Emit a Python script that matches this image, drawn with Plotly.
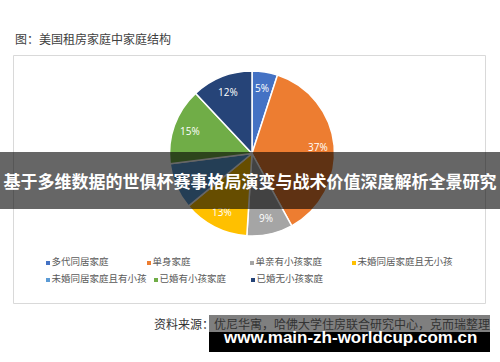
import math
import plotly.graph_objects as go

# ---- data ----
labels = ["多代同居家庭", "单身家庭", "单亲有小孩家庭", "未婚同居家庭且无小孩",
          "未婚同居家庭且有小孩", "已婚有小孩家庭", "已婚无小孩家庭"]
values = [5, 37, 9, 13, 9, 15, 12]
colors = ["#4472C4", "#ED7D31", "#A5A5A5", "#FFC000", "#5B9BD5", "#70AD47", "#264478"]

title_text = "图：美国租房家庭中家庭结构"
source_text = "资料来源：优尼华寓，哈佛大学住房联合研究中心，克而瑞整理"
banner_text = "基于多维数据的世俱杯赛事格局演变与战术价值深度解析全景研究"
watermark_text = "www.main-zh-worldcup.com.cn"

# ---- layout helpers (pixel positions) ----
W, H = 500, 362
cx, cy, r = 252, 153.5, 82.5
label_radius = 0.8
legend_x = [48, 149, 252, 354, 48, 156, 253]
legend_y = [263, 263, 263, 263, 280, 280, 280]

cjk = "Noto Sans CJK SC"

fig = go.Figure()

fig.add_trace(go.Pie(
    labels=labels, values=values, sort=False, direction="clockwise", rotation=0,
    marker=dict(colors=colors, line=dict(color="white", width=1.5)),
    textinfo="none",
    domain=dict(x=[(cx - r) / W, (cx + r) / W], y=[(H - cy - r) / H, (H - cy + r) / H]),
    showlegend=False, hoverinfo="label+percent",
))

# manual legend
fig.add_trace(go.Scatter(
    x=legend_x, y=legend_y, mode="markers+text",
    marker=dict(symbol="square", size=4, color=colors),
    text=labels, textposition="middle right",
    textfont=dict(family=cjk, size=9.5, color="#595959"),
    showlegend=False, hoverinfo="skip", cliponaxis=False,
))

# percentage labels at slice mid-angles (drawn before the banner so it covers them)
annotations = []
total = sum(values)
acc = 0
for v in values:
    mid = (acc + v / 2) / total * 2 * math.pi
    acc += v
    annotations.append(dict(
        text=f"{v}%", x=cx + label_radius * r * math.sin(mid),
        y=cy - label_radius * r * math.cos(mid), xref="x", yref="y",
        showarrow=False, font=dict(family="Open Sans, Noto Sans", size=10, color="white")))

annotations += [
    dict(text=title_text, x=13, y=38, xref="x", yref="y", xanchor="left", yanchor="middle",
         showarrow=False, font=dict(family=cjk, size=12, color="#404040")),
    dict(text=source_text, x=152, y=323, xref="x", yref="y", xanchor="left", yanchor="middle",
         showarrow=False, font=dict(family=cjk, size=12, color="#333333")),
    dict(text="<b>" + banner_text + "</b>", x=250, y=180.5, xref="x", yref="y",
         xanchor="center", yanchor="middle", showarrow=False, width=500, height=57,
         bgcolor="rgba(0,0,0,0.6)", borderpad=0, borderwidth=0, align="center",
         font=dict(family=cjk, size=17, color="white")),
    dict(text="<b>" + watermark_text + "</b>", x=350, y=337, xref="x", yref="y",
         xanchor="center", yanchor="middle", showarrow=False,
         font=dict(family="Liberation Sans, Arial", size=17, color="white")),
]

fig.update_layout(
    width=W, height=H, autosize=False,
    margin=dict(l=0, r=0, t=0, b=0),
    paper_bgcolor="white", plot_bgcolor="rgba(0,0,0,0)",
    xaxis=dict(range=[0, W], visible=False, fixedrange=True),
    yaxis=dict(range=[H, 0], visible=False, fixedrange=True),
    shapes=[
        dict(type="rect", xref="x", yref="y", x0=13.5, y0=55.5, x1=485.5, y1=303.5,
             line=dict(color="#D9D9D9", width=1), layer="below"),
        dict(type="rect", xref="x", yref="y", x0=209, y0=315, x1=490, y1=332,
             fillcolor="rgba(0,0,0,0.5)", line=dict(width=0), layer="above"),
        dict(type="rect", xref="x", yref="y", x0=209, y0=332, x1=490, y1=352,
             fillcolor="black", line=dict(width=0), layer="above"),
    ],
    annotations=annotations,
)

fig.write_html("out.html")
